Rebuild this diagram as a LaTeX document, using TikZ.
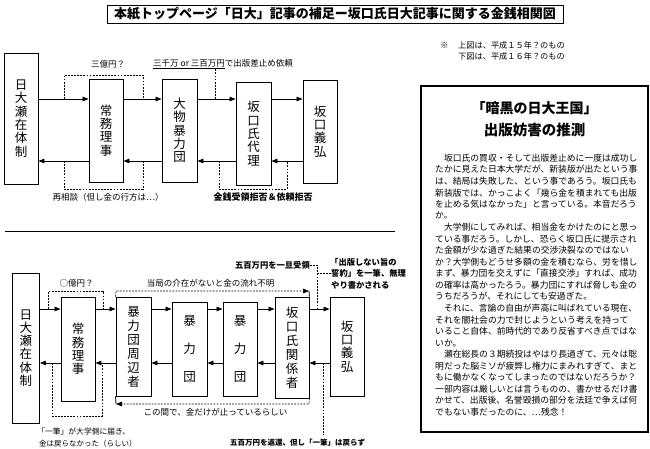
\documentclass[tikz,border=0pt]{standalone}
\usepackage{fontspec}
\setmainfont{Noto Sans CJK JP}
\usetikzlibrary{arrows.meta}
\begin{document}
\begin{tikzpicture}[x=1pt,y=-1pt,
  box/.style={draw, line width=0.9pt, inner sep=0pt, align=center, font=\fontsize{12.5}{13.3}\selectfont},
  arr/.style={line width=0.8pt, -{Triangle[length=6pt,width=4.6pt]}},
  dsh/.style={line width=0.7pt, dash pattern=on 1.8pt off 1.3pt},
  dsharr/.style={dsh, -{Triangle[length=6pt,width=4.6pt]}},
  lab/.style={inner sep=0pt, font=\fontsize{8.5}{10}\selectfont},
  blab/.style={inner sep=0pt, font=\fontsize{8.3}{10}\selectfont\bfseries},
  body/.style={inner sep=0pt, anchor=west, font=\fontsize{8.8}{11}\selectfont},
  head/.style={inner sep=0pt, font=\fontsize{14}{16}\selectfont\bfseries},
]
\useasboundingbox (0,0) rectangle (650,448);
\fill[white] (0,0) rectangle (650,448);

% ---------- title ----------
\node[draw, line width=1pt, minimum width=456pt, minimum height=18pt, inner sep=0pt,
      font=\fontsize{13}{14}\selectfont\bfseries] (title) at (335,14)
      {本紙トップページ「日大」記事の補足ー坂口氏日大記事に関する金銭相関図};

% ---------- note ----------
\node[lab, anchor=west] (kome) at (440,45) {※};
\node[lab, anchor=west, font=\fontsize{8.2}{10}\selectfont] (note1) at (458,45) {上図は、平成１５年？のもの};
\node[lab, anchor=west, font=\fontsize{8.2}{10}\selectfont] (note2) at (458,56) {下図は、平成１６年？のもの};

% ---------- upper diagram ----------
\node[box, minimum width=34pt, minimum height=131pt] (A1) at (21,118.5) {日\\大\\瀬\\在\\体\\制};
\node[box, minimum width=34pt, minimum height=103pt] (B1) at (106,130.5) {常\\務\\理\\事};
\node[box, minimum width=35pt, minimum height=103pt] (C1) at (179.5,130.5) {大\\物\\暴\\力\\団};
\node[box, minimum width=35pt, minimum height=103pt] (D1) at (253.5,133.5) {坂\\口\\氏\\代\\理};
\node[box, minimum width=34pt, minimum height=103pt] (E1) at (320,131.5) {坂\\口\\義\\弘};

\coordinate (u1) at (0,99);
\coordinate (l1) at (0,161);
\draw[arr] (A1.east |- u1) -- (B1.west |- u1);
\draw[arr] (B1.east |- u1) -- (C1.west |- u1);
\draw[arr] (C1.east |- u1) -- (D1.west |- u1);
\draw[arr] (D1.east |- u1) -- (E1.west |- u1);
\draw[arr] (B1.west |- l1) -- (A1.east |- l1);
\draw[arr] (C1.west |- l1) -- (B1.east |- l1);
\draw[arr] (D1.west |- l1) -- (C1.east |- l1);
\draw[arr] (E1.west |- l1) -- (D1.east |- l1);

\node[lab] (L1) at (108,64) {三億円？};
\node[lab, anchor=west] (L2) at (153,64) {\underline{三千万 or 三百万円}で出版差止め依頼};
\node[lab] (L3) at (108,197) {再相談（但し金の行方は…）};
\node[blab, font=\fontsize{9}{10}\selectfont\bfseries] (L4) at (263,197) {金銭受領拒否＆依頼拒否};

\coordinate (p1) at (64,99);  \coordinate (p2) at (64,75);
\coordinate (p3) at (143,75); \coordinate (p4) at (143,99);
\draw[dsh] (p1) -- (p2) -- (p3) -- (p4);
\coordinate (q1) at (215,99); \coordinate (q2) at (215,68);
\draw[dsh] (q1) -- (q2);
\coordinate (r1) at (64,161);  \coordinate (r2) at (64,189);
\coordinate (r3) at (143,189); \coordinate (r4) at (143,161);
\draw[dsh] (r1) -- (r2) -- (r3) -- (r4);
\coordinate (s1) at (219,161); \coordinate (s2) at (219,189);
\coordinate (s3) at (287,189); \coordinate (s4) at (287,161);
\draw[dsh] (s1) -- (s2) -- (s3) -- (s4);

% ---------- separator ----------
\coordinate (sepL) at (5,231); \coordinate (sepR) at (395,231);
\draw[line width=1pt] (sepL) -- (sepR);

% ---------- lower diagram ----------
\node[box, minimum width=27pt, minimum height=150pt] (A2) at (26,348) {日\\大\\瀬\\在\\体\\制};
\node[box, minimum width=34pt, minimum height=104pt] (B2) at (78,349) {常\\務\\理\\事};
\node[box, minimum width=35pt, minimum height=99pt, font=\fontsize{12.5}{14}\selectfont] (C2) at (133.5,346.5) {暴\\力\\団\\周\\辺\\者};
\node[box, minimum width=35pt, minimum height=94pt] (D2) at (189.5,349) {暴\\[14.5pt]力\\[14.5pt]団};
\node[box, minimum width=34pt, minimum height=94pt] (E2) at (240,349) {暴\\[14.5pt]力\\[14.5pt]団};
\node[box, minimum width=34pt, minimum height=101pt, font=\fontsize{12.5}{14}\selectfont] (F2) at (292,347.5) {坂\\口\\氏\\関\\係\\者};
\node[box, minimum width=34pt, minimum height=99pt] (G2) at (347,346.5) {坂\\口\\義\\弘};

\coordinate (u2) at (0,309);
\coordinate (l2) at (0,363);
\draw[arr] (A2.east |- u2) -- (B2.west |- u2);
\draw[arr] (B2.east |- u2) -- (C2.west |- u2);
\draw[arr] (C2.east |- u2) -- (D2.west |- u2);
\draw[arr] (D2.east |- u2) -- (E2.west |- u2);
\draw[arr] (E2.east |- u2) -- (F2.west |- u2);
\draw[arr] (F2.east |- u2) -- (G2.west |- u2);
\draw[arr] (B2.west |- l2) -- (A2.east |- l2);
\draw[arr] (C2.west |- l2) -- (B2.east |- l2);
\draw[arr] (D2.west |- l2) -- (C2.east |- l2);
\draw[arr] (E2.west |- l2) -- (D2.east |- l2);
\draw[arr] (F2.west |- l2) -- (E2.east |- l2);
\draw[arr] (G2.west |- l2) -- (F2.east |- l2);

% labels
\node[lab] (M1) at (76.5,283) {○億円？};
\node[lab] (M2) at (210.5,283) {当局の介在がないと金の流れ不明};
\node[lab] (M3) at (215.5,412) {この間で、金だけが止っているらしい};
\node[lab, anchor=west, font=\fontsize{7.8}{10}\selectfont] (M4) at (37,432) {「一筆」が大学側に届き、};
\node[lab, anchor=west, font=\fontsize{7.5}{10}\selectfont] (M5) at (39,444) {金は戻らなかった（らしい）};
\node[blab, anchor=east] (M6) at (310,265) {五百万円を一旦受領};
\node[blab, anchor=west] (M7) at (330,262) {「出版しない旨の};
\node[blab, anchor=west] (M8) at (331,273.5) {誓約」を一筆、無理};
\node[blab, anchor=west] (M9) at (331,285) {やり書かされる};
\node[blab, anchor=west, font=\fontsize{7.5}{10}\selectfont\bfseries] (M10) at (230,443) {五百万円を返還、但し「一筆」は戻らず};

% dashed connectors
\coordinate (a1) at (48,309);  \coordinate (a2) at (48,291);
\coordinate (a3) at (103,291); \coordinate (a4) at (103,309);
\draw[dsh] (a1) -- (a2) -- (a3) -- (a4);

\coordinate (b1) at (116,291); \coordinate (b2) at (309,291);
\draw[dsharr] (C2.north west) -- (b1) -- (b2);
\draw[line width=0.8pt] (b2) -- (F2.north east);

\coordinate (c1) at (309,404); \coordinate (c2) at (116,404);
\draw[dsharr] (F2.south east) -- (c1) -- (c2);
\draw[line width=0.8pt] (c2) -- (C2.south west);

\coordinate (e1) at (52,363);  \coordinate (e2) at (52,416);
\coordinate (e3) at (102,416); \coordinate (e4) at (102,363);
\draw[dsh] (e1) -- (e2) -- (e3) -- (e4);

\coordinate (f1) at (317,265); \coordinate (f2) at (317,309);
\draw[dsh] (M6.east) -- (f1) -- (f2);
\coordinate (f3) at (317,273.5);
\draw[dsh] (f3) -- (M8.west);

\coordinate (g1) at (323,363); \coordinate (g2) at (323,435);
\draw[dsh] (g1) -- (g2);

% ---------- right frame ----------
\node[draw, line width=1.2pt, minimum width=227pt, minimum height=346pt, inner sep=0pt] (frame) at (534.5,259) {};
\node[head] (h1) at (534.5,108) {「暗黒の日大王国」};
\node[head, font=\fontsize{14.5}{16}\selectfont\bfseries] (h2) at (534.5,130) {出版妨害の推測};

\foreach \t [count=\i] in {
　坂口氏の買収・そして出版差止めに一度は成功し,
たかに見えた日本大学だが、新装版が出たという事,
は、結局は失敗した、という事であろう。坂口氏も,
新装版では、かっこよく「幾ら金を積まれても出版,
を止める気はなかった」と言っている。本音だろう,
か。,
　大学側にしてみれば、相当金をかけたのにと思っ,
ている事だろう。しかし、恐らく坂口氏に提示され,
た金額が少な過ぎた結果の交渉決裂なのではない,
か？大学側もどうせ多額の金を積むなら、労を惜し,
まず、暴力団を交えずに「直接交渉」すれば、成功,
の確率は高かったろう。暴力団にすれば脅しも金の,
うちだろうが、それにしても安過ぎた。,
　それに、言論の自由が声高に叫ばれている現在、,
それを闇社会の力で封じようという考えを持って,
いること自体、前時代的であり反省すべき点ではな,
いか。,
　瀬在総長の３期続投はやはり長過ぎて、元々は聡,
明だった脳ミソが疲弊し権力にまみれすぎて、まと,
もに働かなくなってしまったのではないだろうか？,
一部内容は厳しいとは言うものの、書かせるだけ書,
かせて、出版後、名誉毀損の部分を法廷で争えば何,
でもない事だったのに、…残念！}
  \node[body] (t\i) at (435,{158+(\i-1)*11.55}) {\t};
\end{tikzpicture}
\end{document}
